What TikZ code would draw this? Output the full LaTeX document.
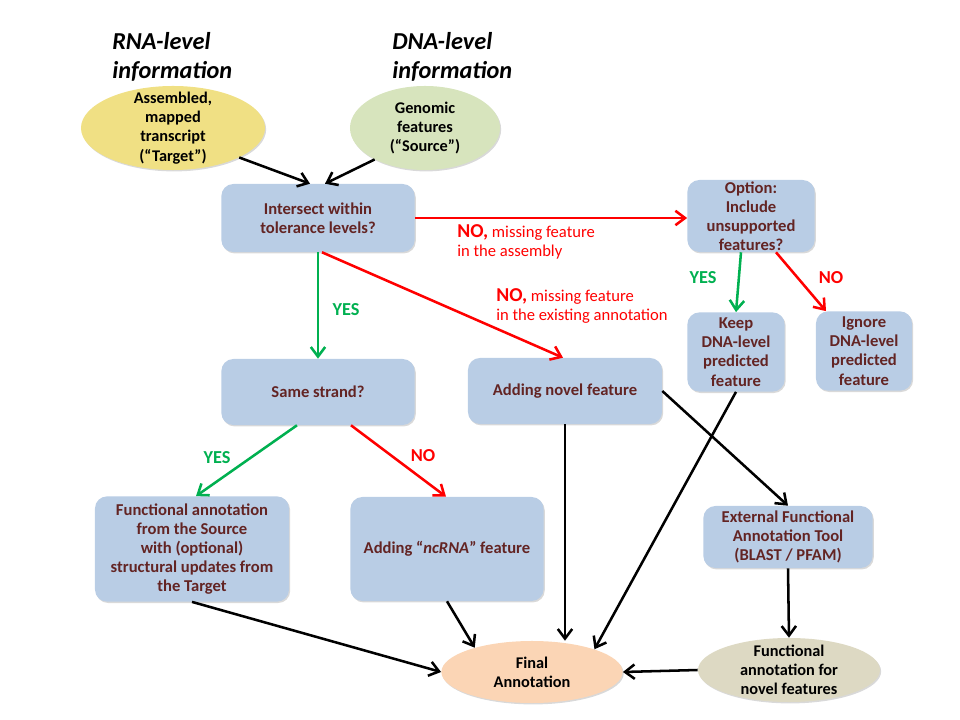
\documentclass[tikz,border=0pt]{standalone}
\usepackage{fontspec}
\setmainfont{Carlito}
\usetikzlibrary{positioning,arrows.meta,calc,shapes.geometric,shadows}
\definecolor{boxblue}{HTML}{B9CDE5}
\definecolor{boxtext}{HTML}{632423}
\definecolor{ellyellow}{HTML}{F0E084}
\definecolor{ellgreen}{HTML}{D7E4BD}
\definecolor{ellpeach}{HTML}{FBD5B5}
\definecolor{elltan}{HTML}{DDD9C3}
\definecolor{yesgreen}{HTML}{00B050}
\definecolor{nored}{HTML}{FF0000}
\tikzset{
  flowbox/.style={rounded corners=0.3cm, fill=boxblue, align=center, text=boxtext,
    font=\fontsize{11.8}{13.6}\selectfont\bfseries, inner sep=0pt,
    drop shadow={shadow xshift=0.8pt, shadow yshift=-1pt, opacity=0.3, fill=black!50}},
  flowell/.style={ellipse, inner sep=0pt,
    drop shadow={shadow xshift=0.8pt, shadow yshift=-1pt, opacity=0.3, fill=black!50}},
  elltext/.style={align=center, font=\fontsize{11.6}{13.6}\selectfont\bfseries, inner sep=0pt},
  headtext/.style={anchor=west, align=left, inner sep=0pt,
    font=\fontsize{17.3}{21}\selectfont\bfseries\itshape},
  flowarrow/.style={-{Straight Barb[length=2.4mm, width=3.6mm]}, line width=1.8pt},
  yesarrow/.style={flowarrow, yesgreen},
  noarrow/.style={flowarrow, nored},
  yeslabel/.style={text=yesgreen, font=\fontsize{13}{15}\selectfont\bfseries},
  nolabel/.style={text=nored, font=\fontsize{13}{15}\selectfont\bfseries},
  nonote/.style={text=nored, anchor=west, align=left, inner sep=0pt,
    font=\fontsize{11.8}{13.6}\selectfont},
}

\begin{document}
\begin{tikzpicture}[x=0.025cm, y=-0.025cm]
  \useasboundingbox (0,0) rectangle (960,720);
  % headings
  \node[headtext] (rnahead) at (112,57) {RNA-level\\information};
  \node[headtext] (dnahead) at (392,57) {DNA-level\\information};
  % inputs
  \node[flowell, fill=ellyellow, minimum width=4.6cm, minimum height=2.1cm] (target) at (173,128) {};
  \node[elltext] (targettxt) at (target) {Assembled,\\mapped\\transcript\\(“Target”)};
  \node[flowell, fill=ellgreen, minimum width=3.75cm, minimum height=2.1cm] (source) at (425,128) {};
  \node[elltext] (sourcetxt) at (source) {Genomic\\features\\(“Source”)};
  % decisions and actions
  \node[flowbox, minimum width=4.83cm, minimum height=1.7cm] (isect) at (318,218) {Intersect within\\tolerance levels?};
  \node[flowbox, minimum width=3.18cm, minimum height=1.8cm] (option) at (751,216) {Option:\\Include\\unsupported\\features?};
  \node[flowbox, minimum width=2.43cm, minimum height=1.98cm] (keep) at (736,352) {Keep\\DNA-level\\predicted\\feature};
  \node[flowbox, minimum width=2.4cm, minimum height=1.98cm] (ignore) at (864,351) {Ignore\\DNA-level\\predicted\\feature};
  \node[flowbox, minimum width=4.83cm, minimum height=1.65cm] (same) at (318,392) {Same strand?};
  \node[flowbox, minimum width=4.85cm, minimum height=1.65cm] (novel) at (565,391) {Adding novel feature};
  \node[flowbox, minimum width=4.85cm, minimum height=2.63cm] (func) at (192,549) {Functional annotation\\from the Source\\with (optional)\\structural updates from\\the Target};
  \node[flowbox, minimum width=4.83cm, minimum height=2.6cm] (ncrna) at (447,549) {Adding “\textit{ncRNA}” feature};
  \node[flowbox, minimum width=4.23cm, minimum height=1.55cm] (ext) at (788,537) {External Functional\\Annotation Tool\\(BLAST / PFAM)};
  % outputs
  \node[flowell, fill=ellpeach, minimum width=4.53cm, minimum height=1.55cm] (final) at (532,672) {};
  \node[elltext] (finaltxt) at (final) {Final\\Annotation};
  \node[flowell, fill=elltan, minimum width=4.55cm, minimum height=1.6cm] (novann) at (789,670) {};
  \node[elltext] (novanntxt) at (novann) {Functional\\annotation for\\novel features};
  % connectors
  \draw[flowarrow] (target.-24) -- ($(isect.north)+(-8,0)$);
  \draw[flowarrow] (source.212) -- ($(isect.north)+(7,0)$);
  \draw[noarrow] (isect.east) -- (isect.east -| option.west);
  \draw[yesarrow] (isect.south) -- (same.north);
  \draw[noarrow] ($(isect.south)+(4,0)$) -- ($(novel.north)+(-2,0)$);
  \draw[yesarrow] ($(option.south)+(-10,0)$) -- (keep.north);
  \draw[noarrow] ($(option.south)+(25,0)$) -- ($(ignore.north)+(-38,0)$);
  \draw[yesarrow] ($(same.south)+(-21,0)$) -- ($(func.north)+(4,0)$);
  \draw[noarrow] ($(same.south)+(33,0)$) -- ($(ncrna.north)+(-1,0)$);
  \draw[flowarrow] (func.south) -- (final.west);
  \draw[flowarrow] (ncrna.south) -- (final.157);
  \draw[flowarrow] (novel.south) -- (novel.south |- final.north);
  \draw[flowarrow] (keep.south) -- (final.20);
  \draw[flowarrow] (novel.east) -- (ext.north);
  \draw[flowarrow] (ext.south) -- (novann.north);
  \draw[flowarrow] (novann.west) -- (final.east);
  % branch labels
  \node[nonote] (asmnote) at (457,242) {{\fontsize{14}{13.6}\selectfont\bfseries NO,} missing feature\\in the assembly};
  \node[nonote] (annnote) at (496,306) {{\fontsize{14}{13.6}\selectfont\bfseries NO,} missing feature\\in the existing annotation};
  \node[yeslabel] (yes1) at (346,310) {YES};
  \node[yeslabel] (yes2) at (703,278) {YES};
  \node[nolabel] (no2) at (831,278) {NO};
  \node[yeslabel] (yes3) at (217,458) {YES};
  \node[nolabel] (no3) at (423,456) {NO};
\end{tikzpicture}
\end{document}
